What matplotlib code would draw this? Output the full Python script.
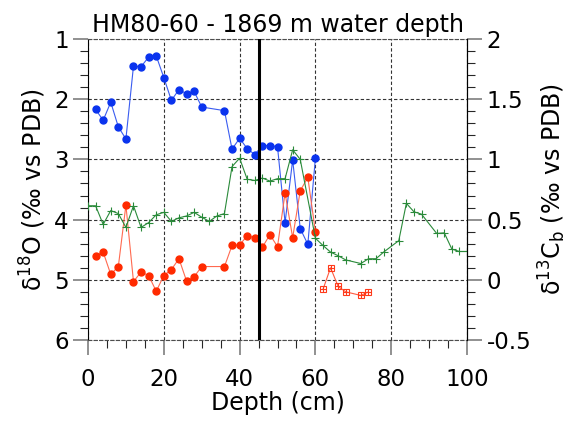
import matplotlib
matplotlib.use("Agg")
import matplotlib.pyplot as plt
from matplotlib.ticker import MultipleLocator

# ---------------------------------------------------------------------------
# Data (depth in cm)
# ---------------------------------------------------------------------------
depth_o18 = [2, 4, 6, 8, 10, 12, 14, 16, 18, 20, 22, 24, 26, 28, 30,
             36, 38, 40, 42, 44, 46, 48, 50, 52, 54, 56, 58, 60]
o18_blue = [2.17, 2.35, 2.05, 2.46, 2.66, 1.45, 1.46, 1.30, 1.28, 1.64,
            2.02, 1.84, 1.91, 1.87, 2.13, 2.19, 2.83, 2.65, 2.82, 2.92,
            2.77, 2.77, 2.79, 4.05, 3.01, 4.15, 4.41, 2.98]
o18_red = [4.60, 4.54, 4.91, 4.78, 3.76, 5.03, 4.87, 4.93, 5.19, 4.93,
           4.83, 4.65, 5.02, 4.95, 4.78, 4.78, 4.43, 4.42, 4.27, 4.30,
           4.46, 4.25, 4.45, 3.56, 4.30, 3.52, 3.30, 4.20]

depth_sq = [62, 64, 66, 68, 72, 74]
o18_sq = [5.16, 4.80, 5.11, 5.20, 5.26, 5.20]

depth_c13 = [0, 2, 4, 6, 8, 10, 12, 14, 16, 18, 20, 22, 24, 26, 28, 30,
             32, 34, 36, 38, 40, 42, 44, 46, 48, 50, 52, 54, 56, 60, 62,
             64, 66, 68, 72, 74, 76, 78, 82, 84, 86, 88, 92, 94, 96, 98, 100]
c13 = [0.615, 0.615, 0.46, 0.575, 0.55, 0.435, 0.615, 0.435, 0.475, 0.54,
       0.56, 0.485, 0.515, 0.53, 0.56, 0.52, 0.485, 0.53, 0.55, 0.94,
       1.01, 0.835, 0.825, 0.845, 0.82, 0.84, 0.84, 1.08, 1.00, 0.345,
       0.285, 0.23, 0.20, 0.165, 0.135, 0.175, 0.175, 0.23, 0.325, 0.635,
       0.565, 0.545, 0.385, 0.39, 0.255, 0.235, 0.235]

marker_depth = 45

# ---------------------------------------------------------------------------
plt.rcParams["font.family"] = ["DejaVu Sans"]
plt.rcParams["mathtext.default"] = "regular"

fig = plt.figure(figsize=(5.7, 4.32), dpi=100)
ax = fig.add_axes([0.1544, 0.2130, 0.8193 - 0.1544, 0.9097 - 0.2130])
ax2 = ax.twinx()

ax.plot(depth_o18, o18_blue, "-", color="#3a5cf0", lw=0.8,
        marker="o", ms=5, mfc="#0a33ee", mec="#0a33ee")
ax.plot(depth_o18, o18_red, "-", color="#ff6a50", lw=0.8,
        marker="o", ms=5, mfc="#ff2a00", mec="#ff2a00")
ax.plot(depth_sq, o18_sq, "-", color="#ff5a40", lw=0.8,
        marker="s", ms=5, mfc="none", mec="#ff3a1a", mew=0.8)
ax.plot(depth_sq, o18_sq, "none", marker="+", ms=5, mec="#ff3a1a", mew=0.8)

ax2.plot(depth_c13, c13, "-", color="#2a8a3a", lw=0.8,
         marker="+", ms=6, mec="#2a8a3a", mew=0.8)
ax2.axvline(marker_depth, color="black", lw=2.2, zorder=5)

ax.set_xlim(0, 100)
ax.set_ylim(6, 1)
ax2.set_ylim(-0.5, 2)

ax.xaxis.set_major_locator(MultipleLocator(20))
ax.xaxis.set_minor_locator(MultipleLocator(5))
ax.yaxis.set_major_locator(MultipleLocator(1))
ax.yaxis.set_minor_locator(MultipleLocator(0.2))
ax2.yaxis.set_major_locator(MultipleLocator(0.5))
ax2.yaxis.set_minor_locator(MultipleLocator(0.1))
ax2.set_yticks([-0.5, 0, 0.5, 1, 1.5, 2])
ax2.set_yticklabels(["-0.5", "0", "0.5", "1", "1.5", "2"])

for a in (ax, ax2):
    a.tick_params(which="major", direction="out", length=11, width=1.1,
                  color="0.45", labelsize=16.5, pad=3)
    a.tick_params(which="minor", direction="out", length=5.5, width=0.8,
                  color="0.15")
ax.tick_params(axis="x", which="major", pad=9)

ax.grid(True, which="major", linestyle=(0, (3, 2)), color="0.2", lw=0.8)

for side in ("top", "bottom"):
    ax.spines[side].set_linestyle((0, (3, 2)))
    ax.spines[side].set_color("0.3")
    ax.spines[side].set_linewidth(0.8)
    ax2.spines[side].set_visible(False)
ax2.spines["left"].set_visible(False)

ax.set_xlabel("Depth (cm)", fontsize=17, labelpad=0)
ax.set_ylabel("δ$^{18}$O (‰ vs PDB)", fontsize=17, labelpad=4)
ax2.set_ylabel("δ$^{13}$C$_b$ (‰ vs PDB)", fontsize=17, labelpad=4)
ax.set_title("HM80-60 - 1869 m water depth", fontsize=17, pad=5)

fig.savefig("out.png", dpi=100)
